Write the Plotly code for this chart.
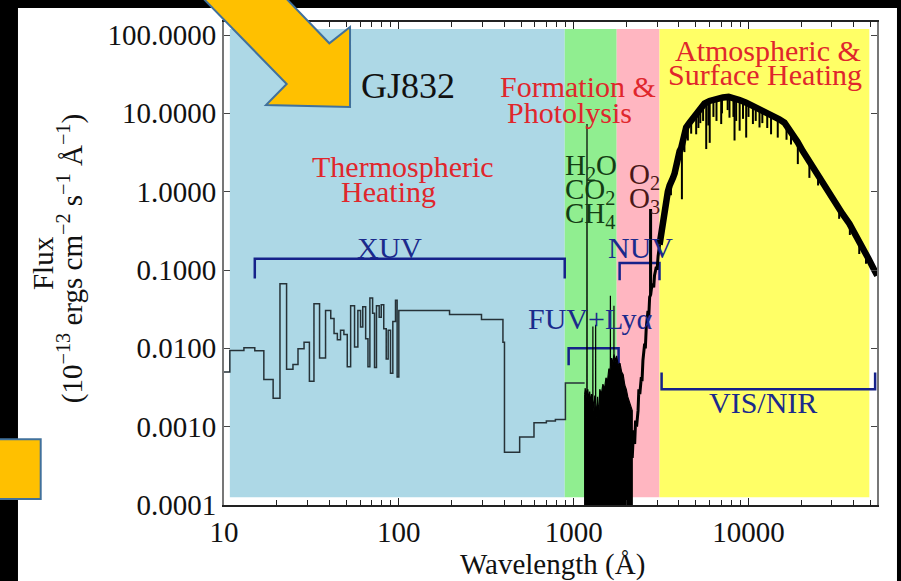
import math
import plotly.graph_objects as go

SERIF = "Liberation Serif, Times New Roman, serif"
RED = "#e0262c"
NAVY = "#1b2a8c"
GREEN_TXT = "#143c14"
MAROON_TXT = "#4a1818"

# ---------------- spectrum of GJ832 ----------------
# XUV reconstruction: bin start wavelength (Å) and flux of each bin
xuv_wave = [10.0, 10.8, 13.0, 15.0, 16.9, 19.1, 20.9, 22.8, 24.8, 26.5,
            28.7, 30.8, 32.7, 35.2, 38.1, 40.8, 42.6, 44.5, 46.4, 48.5,
            50.7, 53.0, 55.8, 58.3, 60.4, 62.2, 64.6, 66.6, 68.3, 70.8,
            72.6, 74.5, 77.2, 79.3, 82.0, 84.7, 86.9, 89.6, 92.4, 95.7,
            97.8, 100.0, 195, 297, 394, 402, 491, 593, 698, 786,
            897, 1156]
xuv_flux = [0.0050, 0.0094, 0.0102, 0.0093, 0.0040, 0.0023, 0.067, 0.0054, 0.0062, 0.0099,
            0.0120, 0.0038, 0.037, 0.0075, 0.0305, 0.024, 0.0155, 0.0129, 0.0170, 0.0150,
            0.0058, 0.035, 0.0104, 0.0305, 0.0187, 0.034, 0.0133, 0.0058, 0.044, 0.028,
            0.0057, 0.035, 0.025, 0.036, 0.0178, 0.0073, 0.017, 0.0048, 0.022, 0.041,
            0.0043, 0.0305, 0.027, 0.0234, 0.012, 0.00047, 0.00074, 0.00112, 0.00118, 0.00123,
            0.0036, 0.0036]

# FUV observation: upper envelope of the noisy data, which runs down to zero
fuv_wave = [1156, 1165, 1175, 1185, 1190, 1192, 1194, 1205, 1220, 1235,
            1250, 1265, 1280, 1287, 1288, 1289, 1305, 1320, 1335, 1336,
            1337, 1355, 1370, 1390, 1410, 1440, 1470, 1500, 1530, 1560,
            1590, 1610, 1621, 1622, 1623, 1650, 1675, 1699, 1700, 1701,
            1730, 1760, 1800, 1840, 1880, 1920, 1960, 2000, 2040, 2080,
            2120, 2163]
fuv_flux = [0.0026, 0.0031, 0.0022, 0.0029, 0.0025, 7.3, 0.0025, 0.0030, 0.0021, 0.0028,
            0.0019, 0.0026, 0.0018, 0.0022, 0.019, 0.0022, 0.0016, 0.0025, 0.0020, 0.020,
            0.0020, 0.0013, 0.0024, 0.0012, 0.0030, 0.0026, 0.0035, 0.0030, 0.0042, 0.0038,
            0.0055, 0.0048, 0.0060, 0.047, 0.0060, 0.0075, 0.0062, 0.0085, 0.035, 0.0085,
            0.0068, 0.0080, 0.0060, 0.0065, 0.0050, 0.0046, 0.0034, 0.0030, 0.0024, 0.0021,
            0.0018, 0.0016]
fuv_floor = 1e-6

# NUV rise
nuv_wave = [2163, 2200, 2233, 2260, 2290, 2335, 2360, 2390, 2438, 2460,
            2490, 2547, 2570, 2600, 2661, 2690, 2720, 2752, 2754, 2756,
            2785, 2840, 2870, 2900, 2970, 3000, 3040, 3100]
nuv_flux = [0.0004, 0.0009, 0.0006, 0.0012, 0.0010, 0.0016, 0.0030, 0.0026, 0.0043, 0.0038,
            0.0070, 0.0115, 0.0100, 0.018, 0.030, 0.026, 0.045, 0.048, 0.60, 0.048,
            0.058, 0.067, 0.060, 0.085, 0.11, 0.10, 0.15, 0.21]

# Stellar photosphere (visible / near-infrared)
vis_wave = [3100, 3170, 3236, 3300, 3390, 3456, 3540, 3615, 3700, 3776,
            3860, 3950, 4036, 4121, 4250, 4401, 4600, 4804, 5020, 5248,
            5600, 5985, 6500, 7130, 7700, 8130, 8900, 9700, 10600, 11560,
            12600, 13770, 15000, 16060, 17000, 17920, 19100, 20430, 21800, 23300,
            24900, 26600, 29000, 31700, 34500, 37770, 41200, 44970, 48500, 52500,
            54500]
vis_flux = [0.21, 0.30, 0.43, 0.55, 0.75, 1.0, 1.2, 1.3, 1.5, 1.7,
            2.2, 2.7, 3.3, 3.6, 5.0, 6.6, 7.6, 8.6, 10.3, 11.9,
            13.3, 14.4, 15.3, 15.9, 16.2, 15.9, 14.8, 13.7, 12.5, 11.3,
            10.2, 9.3, 8.4, 7.6, 6.4, 5.4, 4.3, 3.3, 2.6, 2.04,
            1.6, 1.25, 0.95, 0.70, 0.52, 0.39, 0.28, 0.195, 0.14, 0.099,
            0.085]

# Absorption lines: wavelength, continuum level, line core
line_wave = [3330, 3600, 3900, 4160, 4300, 4500, 4700, 5020, 5170, 5300,
             5500, 5730, 5890, 6000, 6300, 6560, 6980, 7050, 7600, 7785,
             8200, 8320, 8500, 8900, 9300, 9700, 10000, 10600, 11000, 11560,
             12000, 12800, 13460, 14700, 16500, 17500, 19150, 22300, 25000, 33000,
             38000, 43000, 47000]
line_top = [0.62, 1.3, 2.4, 3.8, 5.8, 7.0, 8.0, 10.3, 11.0, 12.2,
            13.0, 13.5, 14.2, 14.4, 15.0, 15.2, 15.8, 15.9, 16.1, 16.1,
            15.9, 15.7, 15.5, 14.8, 14.2, 13.7, 13.3, 12.5, 12.0, 11.3,
            10.8, 10.0, 9.6, 8.8, 7.2, 6.0, 4.2, 2.5, 1.6, 0.6,
            0.38, 0.23, 0.16]
line_bottom = [0.42, 0.9, 1.7, 0.8, 3.2, 4.5, 5.5, 5.4, 6.5, 7.5,
               8.0, 3.5, 7.0, 4.2, 9.0, 8.0, 7.3, 10.0, 11.0, 8.8,
               9.0, 4.5, 8.0, 6.0, 8.5, 4.9, 9.0, 7.3, 8.0, 6.6,
               7.5, 6.5, 5.4, 4.9, 4.6, 4.0, 2.25, 1.5, 1.2, 0.45,
               0.28, 0.16, 0.12]

# ---------------- spectral regions ----------------
band_names = ["Thermospheric Heating", "Formation & Photolysis (H2O, CO2, CH4)",
              "Formation & Photolysis (O2, O3)", "Atmospheric & Surface Heating"]
band_start = [10.8, 889, 1762, 3097]
band_end = [889, 1762, 3097, 49100]
band_colors = ["#add8e6", "#90ee90", "#ffb6c1", "#ffff66"]
band_floor = 1.26e-4
band_ceiling = 119

# Bandpass brackets: start, end, level, end-tick
bracket_names = ["XUV", "FUV+Lyα", "NUV", "VIS/NIR"]
bracket_start = [15.0, 936, 1832, 3184]
bracket_end = [889, 1807, 3097, 53000]
bracket_level = [0.139, 0.0100, 0.123, 0.0030]
bracket_tip = [0.078, 0.0061, 0.074, 0.0049]

# Axis ticks
x_tick_vals = [10, 100, 1000, 10000]
x_tick_labels = ["10", "100", "1000", "10000"]
y_tick_vals = [1e-4, 1e-3, 1e-2, 1e-1, 1, 10, 100]
y_tick_labels = ["0.0001", "0.0010", "0.0100", "0.1000", "1.0000", "10.0000", "100.0000"]

fig = go.Figure()

for name, w0, w1, col in zip(band_names, band_start, band_end, band_colors):
    fig.add_trace(go.Scatter(
        x=[w0, w1, w1, w0, w0],
        y=[band_floor, band_floor, band_ceiling, band_ceiling, band_floor],
        mode="lines", fill="toself", fillcolor=col, line=dict(width=0),
        name=name, hoverinfo="skip"))

bx, by = [], []
for w0, w1, lvl, tip in zip(bracket_start, bracket_end, bracket_level, bracket_tip):
    bx += [w0, w0, w1, w1, None]
    by += [tip, lvl, lvl, tip, None]
fig.add_trace(go.Scatter(x=bx, y=by, mode="lines",
                         line=dict(color="#16228a", width=2.5), hoverinfo="skip"))

# XUV steps
fig.add_trace(go.Scatter(x=xuv_wave, y=xuv_flux, mode="lines",
                         line=dict(color="#263238", width=1.5, shape="hv")))

# FUV: filled down to the zero level of the noisy data
fig.add_trace(go.Scatter(
    x=fuv_wave + [fuv_wave[-1], fuv_wave[0], fuv_wave[0]],
    y=fuv_flux + [fuv_floor, fuv_floor, fuv_flux[0]],
    mode="lines", fill="toself", fillcolor="#000000",
    line=dict(color="#000000", width=1.2)))

fig.add_trace(go.Scatter(x=nuv_wave, y=nuv_flux, mode="lines",
                         line=dict(color="#000000", width=3)))
fig.add_trace(go.Scatter(x=vis_wave, y=vis_flux, mode="lines",
                         line=dict(color="#000000", width=6.5)))

lx, ly = [], []
for w, t, b in zip(line_wave, line_top, line_bottom):
    lx += [w, w, None]
    ly += [t, b, None]
fig.add_trace(go.Scatter(x=lx, y=ly, mode="lines",
                         line=dict(color="#000000", width=2)))


def label(text, wave, flux, color, size=30, xanchor="center"):
    return dict(text=text, x=math.log10(wave), y=math.log10(flux),
                xref="x", yref="y", showarrow=False, xanchor=xanchor,
                yanchor="middle", font=dict(family=SERIF, size=size, color=color))


annotations = [
    label("GJ832", 113, 22.4, "#111111", size=36),
    label("Thermospheric", 105.5, 2.08, RED),
    label("Heating", 87.7, 1.0, RED),
    label("XUV", 88.9, 0.194, NAVY),
    label("Formation &", 1054, 21.8, RED),
    label("Photolysis", 948, 10.4, RED),
    label("Atmospheric &", 13000, 62.5, RED),
    label("Surface Heating", 12500, 30.9, RED),
    label("H<sub>2</sub>O", 865, 2.08, GREEN_TXT, size=29, xanchor="left"),
    label("CO<sub>2</sub>", 865, 1.03, GREEN_TXT, size=29, xanchor="left"),
    label("CH<sub>4</sub>", 865, 0.51, GREEN_TXT, size=29, xanchor="left"),
    label("O<sub>2</sub>", 2010, 1.6, MAROON_TXT, size=29, xanchor="left"),
    label("O<sub>3</sub>", 2010, 0.79, MAROON_TXT, size=29, xanchor="left"),
    label("NUV", 2415, 0.194, NAVY),
    label("FUV+Lyα", 1250, 0.024, NAVY),
    label("VIS/NIR", 12030, 0.00205, NAVY),
    # axis titles
    dict(text="Wavelength (Å)", x=0.5023, y=-0.124, xref="paper", yref="paper",
         showarrow=False, xanchor="center", yanchor="middle",
         font=dict(family=SERIF, size=29, color="#111111")),
    dict(text="Flux", x=-0.2772, y=0.501, xref="paper", yref="paper",
         showarrow=False, xanchor="center", yanchor="middle", textangle=-90,
         font=dict(family=SERIF, size=29, color="#111111")),
    dict(text="(10<sup>−13</sup> ergs cm<sup>−2</sup> s<sup>−1</sup> Å<sup>−1</sup>)",
         x=-0.2358, y=0.509, xref="paper", yref="paper",
         showarrow=False, xanchor="center", yanchor="middle", textangle=-90,
         font=dict(family=SERIF, size=29, color="#111111")),
]

# slide decorations (paper coordinates)
arrow_path = ("M -0.0444,1.0663 L 0.0960,0.8716 L 0.0643,0.8282 L 0.1930,0.8240 "
              "L 0.1930,0.9896 L 0.1613,0.9559 L 0.0827,1.0663 Z")
shapes = [
    dict(type="rect", xref="paper", yref="paper", x0=-0.3155, x1=1.0306,
         y0=-0.25, y1=1.029, fillcolor="#ffffff", line=dict(width=0), layer="below"),
    dict(type="path", xref="paper", yref="paper", path=arrow_path,
         fillcolor="#ffc000", line=dict(color="#41719c", width=2), layer="above"),
    dict(type="rect", xref="paper", yref="paper", x0=-0.3507, x1=-0.2807,
         y0=0.0124, y1=0.1360, fillcolor="#ffc000",
         line=dict(color="#41719c", width=2), layer="above"),
]

fig.update_layout(
    width=901, height=581,
    margin=dict(l=224, r=24, t=22, b=76),
    paper_bgcolor="#000000", plot_bgcolor="#ffffff",
    showlegend=False,
    font=dict(family=SERIF, size=29, color="#111111"),
    xaxis=dict(type="log", range=[1, 4.735], tickmode="array",
               tickvals=x_tick_vals, ticktext=x_tick_labels,
               ticks="inside", ticklen=7, tickwidth=1, tickcolor="#222222",
               showline=True, linecolor="#222222", linewidth=1.5, mirror="ticks",
               showgrid=False, zeroline=False,
               minor=dict(ticks="inside", ticklen=5, tickcolor="#222222",
                          dtick="D1", showgrid=False),
               tickfont=dict(family=SERIF, size=29, color="#111111")),
    yaxis=dict(type="log", range=[-4, 2.166], tickmode="array",
               tickvals=y_tick_vals, ticktext=y_tick_labels,
               ticks="inside", ticklen=6, tickwidth=1, tickcolor="#444444",
               showline=True, linecolor="#777777", linewidth=2, mirror="ticks",
               showgrid=False, zeroline=False,
               tickfont=dict(family=SERIF, size=29, color="#111111")),
    annotations=annotations,
    shapes=shapes,
)

fig.write_html("out.html")
